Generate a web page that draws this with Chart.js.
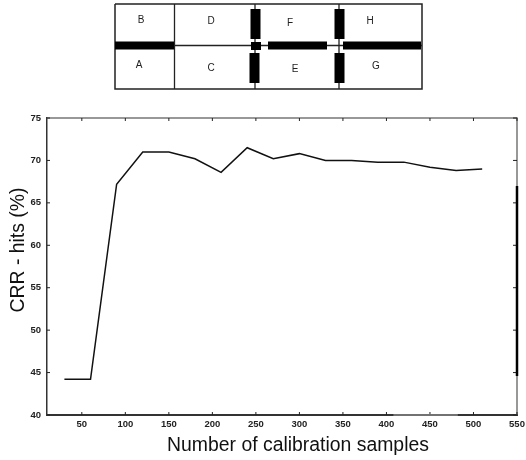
<!DOCTYPE html>
<html>
<head>
<meta charset="utf-8">
<script src="https://cdn.jsdelivr.net/npm/chart.js@4/dist/chart.umd.min.js"></script>
<style>
    body { margin: 0; background: #fff; }
    canvas { position: absolute; left: 0; top: 0; }
</style>
</head>
<body>
<canvas id="mainChart" width="526" height="460"></canvas>
<canvas id="planChart" width="526" height="100"></canvas>
<script>
// Curve
var samples = [30, 60, 90, 120, 150, 180, 210, 240, 270, 300, 330, 360, 390, 420, 450, 480, 510];
var hits = [44.2, 44.2, 67.2, 71, 71, 70.2, 68.6, 71.5, 70.2, 70.8, 70, 70, 69.8, 69.8, 69.2, 68.8, 69];
var xTicks = [50, 100, 150, 200, 250, 300, 350, 400, 450, 500, 550];
var yTicks = [40, 45, 50, 55, 60, 65, 70, 75];

// Dark stretch of the right border and faded stretch of the bottom one
var rightEdgeDark = [67, 44.6];
var bottomEdgeFaded = [408, 482];

// Floor plan, in plan units
var planOutline = [[115, 4], [422, 4], [422, 89], [115, 89], [115, 4]];
var planThin = [
    [[174.5, 4], [174.5, 89]],
    [[255, 4], [255, 89]],
    [[339, 4], [339, 89]],
    [[174, 45.5], [422, 45.5]]
];
var planVertical = [
    [[255.5, 9], [255.5, 39]],
    [[254.5, 53], [254.5, 83]],
    [[339.5, 9], [339.5, 39]],
    [[339.5, 53], [339.5, 83]]
];
var planHorizontal = [
    [[115, 45.5], [174, 45.5]],
    [[251, 46], [261, 46]],
    [[268, 45.5], [327, 45.5]],
    [[343, 45.5], [421, 45.5]]
];
var roomNames = ["B", "D", "F", "H", "A", "C", "E", "G"];
var roomX = [141, 211, 290, 370, 139, 211, 295, 376];
var roomY = [20, 21, 23, 21, 65, 68, 69, 66];

function toPoints(list) {
    return list.map(function (p) { return { x: p[0], y: p[1] }; });
}

function wall(points, width, color) {
    return {
        data: toPoints(points),
        showLine: true,
        borderColor: color,
        borderWidth: width,
        pointRadius: 0,
        tension: 0
    };
}

// Inward ticks on all four sides, grey top and right border, axis titles
var frame = {
    id: "frame",
    beforeDatasetsDraw: function (chart) {
        var a = chart.chartArea;
        var ctx = chart.ctx;
        ctx.save();
        ctx.strokeStyle = "#777";
        ctx.lineWidth = 1.5;
        ctx.beginPath();
        ctx.moveTo(a.left, a.top);
        ctx.lineTo(a.right, a.top);
        ctx.lineTo(a.right, a.bottom);
        ctx.stroke();
        ctx.strokeStyle = "#222";
        ctx.lineWidth = 1;
        ctx.beginPath();
        xTicks.forEach(function (v) {
            var x = chart.scales.x.getPixelForValue(v);
            ctx.moveTo(x, a.top);
            ctx.lineTo(x, a.top + 3);
            ctx.moveTo(x, a.bottom);
            ctx.lineTo(x, a.bottom - 3);
        });
        yTicks.forEach(function (v) {
            var y = chart.scales.y.getPixelForValue(v);
            ctx.moveTo(a.left, y);
            ctx.lineTo(a.left + 3, y);
            ctx.moveTo(a.right, y);
            ctx.lineTo(a.right - 4, y);
        });
        ctx.stroke();
        ctx.restore();
    },
    afterDraw: function (chart) {
        var ctx = chart.ctx;
        ctx.save();
        ctx.fillStyle = "#111";
        ctx.font = "19.4px 'Liberation Sans'";
        ctx.textAlign = "center";
        ctx.textBaseline = "middle";
        ctx.fillText("Number of calibration samples", 298, 446);
        ctx.translate(19, 250);
        ctx.rotate(-Math.PI / 2);
        ctx.fillText("CRR - hits (%)", 0, 0);
        ctx.restore();
    }
};

new Chart("mainChart", {
    type: "scatter",
    data: {
        datasets: [
            {
                data: samples.map(function (s, i) { return { x: s, y: hits[i] }; }),
                showLine: true,
                borderColor: "#111",
                borderWidth: 1.5,
                pointRadius: 0,
                tension: 0
            },
            {
                data: rightEdgeDark.map(function (v) { return { x: 550, y: v }; }),
                showLine: true,
                borderColor: "#000",
                borderWidth: 2.5,
                pointRadius: 0,
                clip: false
            },
            {
                data: bottomEdgeFaded.map(function (v) { return { x: v, y: 40 }; }),
                showLine: true,
                borderColor: "#888",
                borderWidth: 1.5,
                pointRadius: 0,
                clip: false
            }
        ]
    },
    options: {
        responsive: false,
        animation: false,
        layout: { padding: { top: 118, right: 9 } },
        plugins: { legend: { display: false }, tooltip: { enabled: false } },
        scales: {
            x: {
                type: "linear",
                min: 10,
                max: 550,
                afterBuildTicks: function (axis) {
                    axis.ticks = xTicks.map(function (v) { return { value: v }; });
                },
                // the 550 label may hang over the right edge of the plot
                afterFit: function (axis) {
                    axis.height = 45;
                    axis.paddingRight = 0;
                },
                grid: { drawOnChartArea: false, drawTicks: false },
                border: { color: "#333", width: 2 },
                ticks: {
                    padding: 4,
                    maxRotation: 0,
                    color: "#222",
                    font: { family: "Liberation Sans", size: 9.5, weight: "bold" }
                }
            },
            y: {
                min: 40,
                max: 75,
                afterBuildTicks: function (axis) {
                    axis.ticks = yTicks.map(function (v) { return { value: v }; });
                },
                afterFit: function (axis) { axis.width = 47; },
                grid: { drawOnChartArea: false, drawTicks: false },
                border: { color: "#333", width: 1.5 },
                ticks: {
                    padding: 6,
                    color: "#222",
                    font: { family: "Liberation Sans", size: 9.5, weight: "bold" }
                }
            }
        }
    },
    plugins: [frame]
});

// Room letters
var roomLabels = {
    id: "roomLabels",
    afterDraw: function (chart) {
        var ctx = chart.ctx;
        ctx.save();
        ctx.fillStyle = "#222";
        ctx.font = "10px 'Liberation Sans'";
        ctx.textAlign = "center";
        ctx.textBaseline = "middle";
        roomNames.forEach(function (name, i) {
            ctx.fillText(name, chart.scales.x.getPixelForValue(roomX[i]), chart.scales.y.getPixelForValue(roomY[i]));
        });
        ctx.restore();
    }
};

// The first dataset is painted last, so the thick walls go in front of the list
var planSets = [];
planVertical.forEach(function (w) { planSets.push(wall(w, 10, "#000")); });
planHorizontal.forEach(function (w) { planSets.push(wall(w, 8, "#000")); });
planThin.forEach(function (w) { planSets.push(wall(w, 1.3, "#222")); });
planSets.push(wall(planOutline, 1.5, "#222"));

new Chart("planChart", {
    type: "scatter",
    data: { datasets: planSets },
    options: {
        responsive: false,
        animation: false,
        plugins: { legend: { display: false }, tooltip: { enabled: false } },
        scales: {
            x: { type: "linear", min: 0, max: 526, display: false },
            y: { min: 0, max: 100, reverse: true, display: false }
        }
    },
    plugins: [roomLabels]
});
</script>
</body>
</html>
